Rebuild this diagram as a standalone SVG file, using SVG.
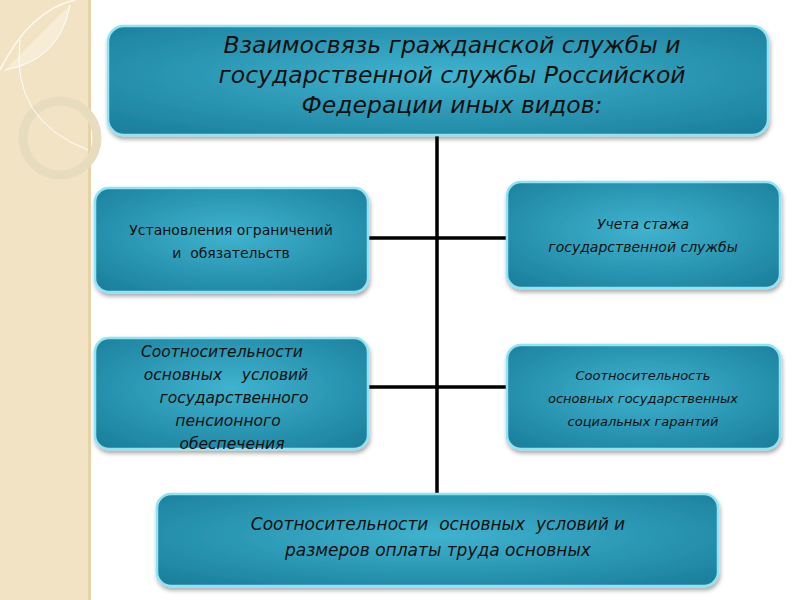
<svg xmlns="http://www.w3.org/2000/svg" width="800" height="600" viewBox="0 0 800 600">
<defs>
<radialGradient id="g" cx="0.5" cy="0.45" r="0.7">
<stop offset="0" stop-color="#3fb3cf"/><stop offset="1" stop-color="#1a7f9c"/>
</radialGradient>
<filter id="sh" x="-10%" y="-10%" width="120%" height="130%"><feDropShadow dx="1" dy="3" stdDeviation="2" flood-color="#000" flood-opacity="0.35"/></filter>
</defs>
<style>
.box{fill:url(#g);stroke:#8fe3f2;stroke-width:2.5;filter:url(#sh)}
.t{font-family:"DejaVu Sans","Open Sans",sans-serif;fill:#111;text-anchor:middle}
.i{font-style:italic}
.c{stroke:#000;stroke-width:3.5;fill:none}
</style>
<rect width="800" height="600" fill="#fff"/>
<rect width="88" height="600" fill="#f1e3c3"/>
<rect x="88" width="3" height="600" fill="#e6d3a8"/>
<path d="M0 70 Q30 10 75 0" fill="none" stroke="#fff" stroke-width="1.5" opacity="0.8"/>
<path d="M5 70 Q60 60 70 5" fill="#f7edd6" stroke="#fff" stroke-width="1"/>
<circle cx="60" cy="138" r="37" fill="none" stroke="#e8dcbf" stroke-width="9"/>
<path d="M20 40 Q10 120 88 150" fill="none" stroke="#fff" stroke-width="1"/>
<g id="connectors">
<path class="c" d="M437 135V494M368 238H507M368 387H507"/>
</g>
<g id="n0"><rect class="box" x="108" y="26" width="660" height="109" rx="16"/>
<text class="t i" font-size="23.5"><tspan x="452" y="53">Взаимосвязь гражданской службы и</tspan><tspan x="452" y="83">государственной службы Российской</tspan><tspan x="452" y="113">Федерации иных видов:</tspan></text></g>
<g id="n1"><rect class="box" x="95" y="188" width="273" height="104" rx="14"/>
<text class="t" font-size="14" xml:space="preserve"><tspan x="231" y="235">Установления ограничений</tspan><tspan x="231" y="258">и  обязательств</tspan></text></g>
<g id="n2"><rect class="box" x="507" y="182" width="273" height="106" rx="14"/>
<text class="t i" font-size="14"><tspan x="643" y="229">Учета стажа</tspan><tspan x="643" y="252">государственной службы</tspan></text></g>
<g id="n3"><rect class="box" x="95" y="338" width="273" height="111" rx="14"/>
<text class="t i" font-size="15.5" xml:space="preserve"><tspan x="222" y="357">Соотносительности</tspan><tspan x="226" y="380">основных    условий</tspan><tspan x="234" y="403">государственного</tspan><tspan x="228" y="426">пенсионного</tspan><tspan x="232" y="449">обеспечения</tspan></text></g>
<g id="n4"><rect class="box" x="507" y="345" width="273" height="104" rx="14"/>
<text class="t i" font-size="13"><tspan x="643" y="380">Соотносительность</tspan><tspan x="643" y="403">основных государственных</tspan><tspan x="643" y="426">социальных гарантий</tspan></text></g>
<g id="n5"><rect class="box" x="157" y="494" width="561" height="92" rx="14"/>
<text class="t i" font-size="17" xml:space="preserve"><tspan x="438" y="530">Соотносительности  основных  условий и</tspan><tspan x="438" y="556">размеров оплаты труда основных</tspan></text></g>
</svg>
